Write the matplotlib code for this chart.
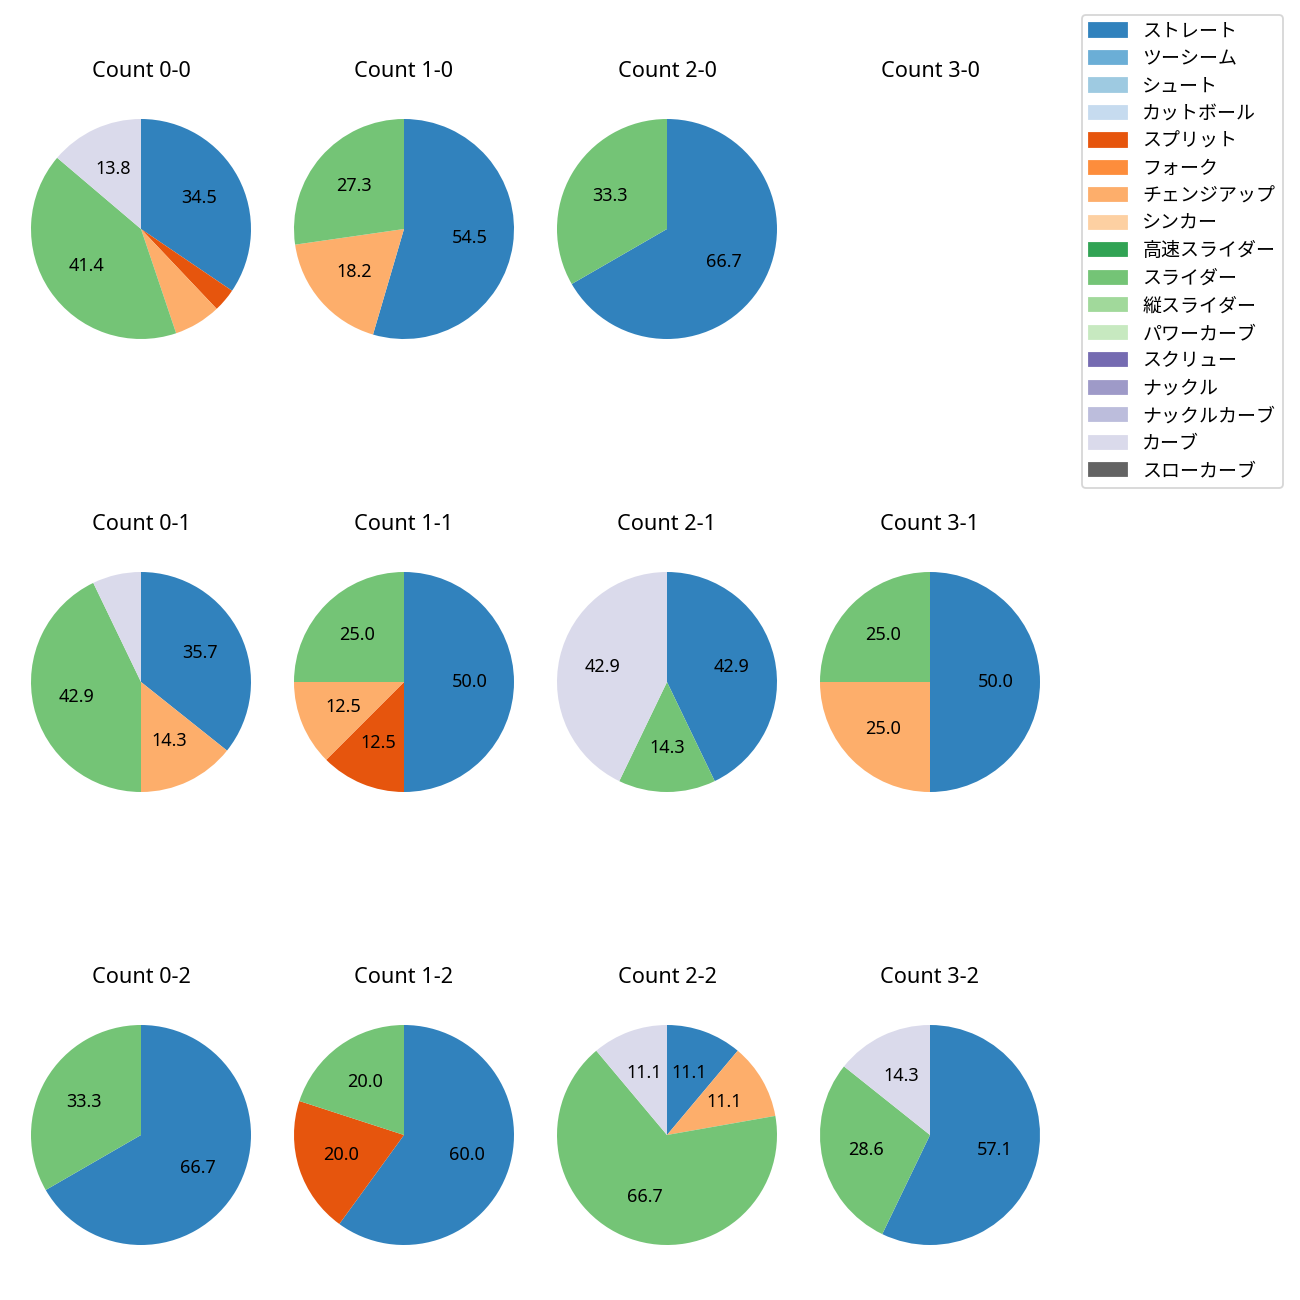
import matplotlib.pyplot as plt
from matplotlib.patches import Patch

plt.rcParams["font.family"] = ["Noto Sans", "Noto Sans CJK JP", "DejaVu Sans"]

pitch_names = [
    "ストレート", "ツーシーム", "シュート", "カットボール", "スプリット", "フォーク",
    "チェンジアップ", "シンカー", "高速スライダー", "スライダー", "縦スライダー",
    "パワーカーブ", "スクリュー", "ナックル", "ナックルカーブ", "カーブ", "スローカーブ",
]

# pitch counts per ball-strike count, in pitch_names order
c00 = [10, 0, 0, 0, 1, 0, 2, 0, 0, 12, 0, 0, 0, 0, 0, 4, 0]
c10 = [6, 0, 0, 0, 0, 0, 2, 0, 0, 3, 0, 0, 0, 0, 0, 0, 0]
c20 = [2, 0, 0, 0, 0, 0, 0, 0, 0, 1, 0, 0, 0, 0, 0, 0, 0]
c30 = [0] * 17
c01 = [5, 0, 0, 0, 0, 0, 2, 0, 0, 6, 0, 0, 0, 0, 0, 1, 0]
c11 = [4, 0, 0, 0, 1, 0, 1, 0, 0, 2, 0, 0, 0, 0, 0, 0, 0]
c21 = [3, 0, 0, 0, 0, 0, 0, 0, 0, 1, 0, 0, 0, 0, 0, 3, 0]
c31 = [2, 0, 0, 0, 0, 0, 1, 0, 0, 1, 0, 0, 0, 0, 0, 0, 0]
c02 = [2, 0, 0, 0, 0, 0, 0, 0, 0, 1, 0, 0, 0, 0, 0, 0, 0]
c12 = [3, 0, 0, 0, 1, 0, 0, 0, 0, 1, 0, 0, 0, 0, 0, 0, 0]
c22 = [1, 0, 0, 0, 0, 0, 1, 0, 0, 6, 0, 0, 0, 0, 0, 1, 0]
c32 = [4, 0, 0, 0, 0, 0, 0, 0, 0, 2, 0, 0, 0, 0, 0, 1, 0]

grid = [
    [("0-0", c00), ("1-0", c10), ("2-0", c20), ("3-0", c30)],
    [("0-1", c01), ("1-1", c11), ("2-1", c21), ("3-1", c31)],
    [("0-2", c02), ("1-2", c12), ("2-2", c22), ("3-2", c32)],
]

cmap = plt.get_cmap("tab20c")
colors = [cmap(i) for i in range(len(pitch_names))]

fig = plt.figure(figsize=(10, 10), dpi=130)

size = 275 / 1300
col_x = [141, 404, 667, 930]
row_y = [229, 682, 1135]

for r, row in enumerate(grid):
    for c, (label, counts) in enumerate(row):
        cx = col_x[c] / 1300
        cy = 1 - row_y[r] / 1300
        ax = fig.add_axes([cx - size / 2, cy - size / 2, size, size])
        vals = [v for v in counts if v > 0]
        cols = [colors[i] for i, v in enumerate(counts) if v > 0]
        if vals:
            ax.pie(vals, colors=cols, startangle=90, counterclock=False,
                   autopct=lambda p: f"{p:.1f}" if p > 10 else "")
        else:
            ax.set_xlim(-1.25, 1.25)
            ax.set_ylim(-1.25, 1.25)
        ax.axis("off")
        ax.set_title(f"Count {label}", pad=8)

handles = [Patch(color=col, label=name) for col, name in zip(colors, pitch_names)]
fig.legend(handles=handles, loc="upper right", borderaxespad=0,
           bbox_to_anchor=(1283 / 1300, 1 - 15 / 1300),
           fontsize=10.5, labelspacing=0.5)

fig.savefig("out.png", dpi=130)
